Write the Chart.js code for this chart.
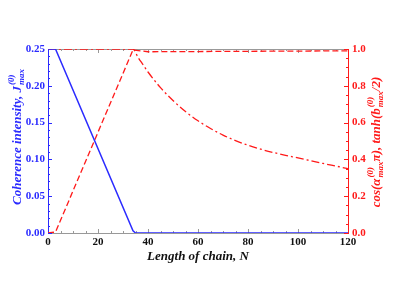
<!DOCTYPE html>
<html>
<head>
<meta charset="utf-8">
<script src="https://cdn.jsdelivr.net/npm/chart.js@4"></script>
<style>
  body { margin: 0; background: #fff; }
  canvas { display: block; }
</style>
</head>
<body>
<canvas id="graficoCadeia" width="398" height="283"></canvas>
<script>
/* DADOS */
const nCoherence = [0, 3, 34, 35, 120];
const coherenceJ = [0.25, 0.25, 0.003, 0, 0];

const nTanh = [0, 3, 34, 40, 120];
const tanhB = [0, 0.005, 0.995, 0.985, 0.99];

const nCos = [0, 34, 36, 38, 40, 45, 50, 55, 60, 65, 70, 75, 80, 85, 90, 95, 100, 105, 110, 115, 120];
const cosAlpha = [1, 1, 0.955, 0.915, 0.875, 0.79, 0.72, 0.66, 0.61, 0.568, 0.532, 0.502, 0.477, 0.456, 0.438, 0.422, 0.408, 0.393, 0.378, 0.364, 0.35];

const xTickLabels = ['0', '20', '40', '60', '80', '100', '120'];
const leftTickLabels = ['0.00', '0.05', '0.10', '0.15', '0.20', '0.25'];
const rightTickLabels = ['0.0', '0.2', '0.4', '0.6', '0.8', '1.0'];

const azul = '#2b2bff';
const vermelho = '#ff1a1a';
const serif = "'Liberation Serif', 'DejaVu Serif', serif";

function pares(xs, ys) {
    return xs.map((x, i) => ({ x: x, y: ys[i] }));
}

/* texto com indice e expoente empilhados */
function textoRico(ctx, partes, cx, cy, cor) {
    const fMain = 'italic bold 13px ' + serif;
    const fSmall = 'italic bold 9px ' + serif;
    let total = 0;
    partes.forEach(p => {
        if (typeof p === 'string') {
            ctx.font = fMain;
            total += ctx.measureText(p).width;
        } else {
            ctx.font = fSmall;
            total += Math.max(ctx.measureText(p.sub).width, ctx.measureText(p.sup).width) + 1;
        }
    });
    ctx.save();
    ctx.translate(cx, cy);
    ctx.rotate(-Math.PI / 2);
    ctx.fillStyle = cor;
    ctx.textBaseline = 'middle';
    ctx.textAlign = 'left';
    let x = -total / 2;
    partes.forEach(p => {
        if (typeof p === 'string') {
            ctx.font = fMain;
            ctx.fillText(p, x, 0);
            x += ctx.measureText(p).width;
        } else {
            ctx.font = fSmall;
            ctx.fillText(p.sup, x + 1, -6);
            ctx.fillText(p.sub, x + 1, 4);
            x += Math.max(ctx.measureText(p.sub).width, ctx.measureText(p.sup).width) + 1;
        }
    });
    ctx.restore();
}

const molduraPlugin = {
    id: 'moldura',
    beforeDatasetsDraw(chart) {
        const ctx = chart.ctx;
        const a = chart.chartArea;
        const sx = chart.scales.x, yl = chart.scales.y, yr = chart.scales.y2;
        ctx.save();
        ctx.lineWidth = 1;
        // topo e base
        ctx.strokeStyle = '#999';
        ctx.beginPath();
        ctx.moveTo(a.left, a.top + 0.5); ctx.lineTo(a.right, a.top + 0.5);
        ctx.moveTo(a.left, a.bottom + 0.5); ctx.lineTo(a.right, a.bottom + 0.5);
        for (let n = 0; n <= 120; n += 5) {
            const px = Math.round(sx.getPixelForValue(n)) + 0.5;
            const len = n % 20 === 0 ? 4 : 2;
            ctx.moveTo(px, a.top); ctx.lineTo(px, a.top + len);
            ctx.moveTo(px, a.bottom); ctx.lineTo(px, a.bottom - len);
        }
        ctx.stroke();
        // eixo esquerdo
        ctx.strokeStyle = azul;
        ctx.beginPath();
        ctx.moveTo(a.left + 0.5, a.top); ctx.lineTo(a.left + 0.5, a.bottom + 1);
        for (let k = 0; k <= 25; k++) {
            const py = Math.round(yl.getPixelForValue(k * 0.01)) + 0.5;
            const len = k % 5 === 0 ? 4 : 2;
            ctx.moveTo(a.left, py); ctx.lineTo(a.left + len, py);
        }
        ctx.stroke();
        // eixo direito
        ctx.strokeStyle = vermelho;
        ctx.beginPath();
        ctx.moveTo(a.right + 0.5, a.top); ctx.lineTo(a.right + 0.5, a.bottom + 1);
        for (let k = 0; k <= 20; k++) {
            const py = Math.round(yr.getPixelForValue(k * 0.05)) + 0.5;
            const len = k % 4 === 0 ? 4 : 2;
            ctx.moveTo(a.right, py); ctx.lineTo(a.right - len, py);
        }
        ctx.stroke();
        ctx.restore();
    },
    afterDraw(chart) {
        const ctx = chart.ctx;
        const a = chart.chartArea;
        // titulo eixo x
        ctx.save();
        ctx.font = 'italic bold 13px ' + serif;
        ctx.fillStyle = '#111';
        ctx.textAlign = 'center';
        ctx.textBaseline = 'middle';
        ctx.fillText('Length of chain, N', (a.left + a.right) / 2, 257);
        ctx.restore();
        // titulo esquerdo
        textoRico(ctx, ['Coherence intensity, J', { sub: 'max', sup: '(0)' }], 18, 137, azul);
        // titulo direito
        textoRico(ctx, ['cos(\u03b1', { sub: 'max', sup: '(0)' }, '\u03c0), tanh(b', { sub: 'max', sup: '(0)' }, '/2)'], 377, 142, vermelho);
    }
};

const graficoCadeia = document.getElementById('graficoCadeia');

new Chart(graficoCadeia, {
    type: 'line',
    data: {
        datasets: [{
            label: 'J max',
            data: pares(nCoherence, coherenceJ),
            yAxisID: 'y',
            borderColor: azul,
            borderWidth: 1.5,
            pointRadius: 0,
            tension: 0
        }, {
            label: 'tanh',
            data: pares(nTanh, tanhB),
            yAxisID: 'y2',
            borderColor: vermelho,
            borderWidth: 1.3,
            borderDash: [6, 3],
            pointRadius: 0,
            tension: 0
        }, {
            label: 'cos',
            data: pares(nCos, cosAlpha),
            yAxisID: 'y2',
            borderColor: vermelho,
            borderWidth: 1.3,
            borderDash: [8, 3, 2, 3],
            pointRadius: 0,
            cubicInterpolationMode: 'monotone'
        }]
    },
    options: {
        responsive: false,
        animation: false,
        devicePixelRatio: 1,
        layout: { padding: { top: 49 } },
        scales: {
            x: {
                type: 'linear',
                min: 0,
                max: 120,
                grid: { display: false, drawTicks: false },
                border: { display: false },
                ticks: {
                    stepSize: 20,
                    padding: 3,
                    color: '#111',
                    font: { family: serif, size: 11, weight: 'bold' },
                    callback: (v, i) => xTickLabels[i]
                },
                afterFit: s => { s.height = 50; }
            },
            y: {
                position: 'left',
                min: 0,
                max: 0.25,
                grid: { display: false, drawTicks: false },
                border: { display: false },
                ticks: {
                    stepSize: 0.05,
                    padding: 3,
                    color: azul,
                    font: { family: serif, size: 11, weight: 'bold' },
                    callback: (v, i) => leftTickLabels[i]
                },
                afterFit: s => { s.width = 48; }
            },
            y2: {
                position: 'right',
                min: 0,
                max: 1,
                grid: { display: false, drawTicks: false },
                border: { display: false },
                ticks: {
                    stepSize: 0.2,
                    padding: 4,
                    color: vermelho,
                    font: { family: serif, size: 11, weight: 'bold' },
                    callback: (v, i) => rightTickLabels[i]
                },
                afterFit: s => { s.width = 50; }
            }
        },
        plugins: {
            legend: { display: false },
            tooltip: { enabled: false }
        }
    },
    plugins: [molduraPlugin]
});
</script>
</body>
</html>
